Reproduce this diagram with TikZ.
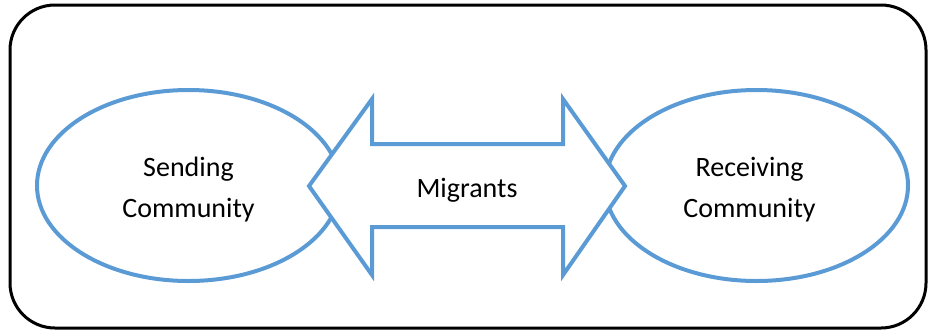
\documentclass[tikz,border=0pt]{standalone}
\usepackage{fontspec}
\setmainfont{Carlito}
\usetikzlibrary{shapes.geometric}
\definecolor{ringblue}{RGB}{91,155,213}

\begin{document}
\begin{tikzpicture}[x=1pt, y=-1pt,
    community/.style={ellipse, draw=ringblue, line width=4pt, minimum width=303pt, minimum height=191pt, inner sep=0pt},
    caption/.style={align=center, font=\fontsize{28}{41}\selectfont},
    flow/.style={draw=ringblue, line width=4pt, fill=white, line join=miter}]
    \useasboundingbox (0,0) rectangle (928,333);

    % outer frame
    \draw[line width=3pt, rounded corners=45pt] (10,5) rectangle (926,328);

    % the two communities
    \node[community] (send) at (188.5,185.5) {};
    \node[community] (recv) at (756.5,185.5) {};
    \node[caption, yshift=-4pt] (sendtext) at (send.center) {Sending\\Community};
    \node[caption, xshift=-7pt, yshift=-4pt] (recvtext) at (recv.center) {Receiving\\Community};

    % two-way arrow between them
    \draw[flow] (309,186) -- (372,99) -- (372,144) -- (563,144) -- (563,99) -- (625,186)
        -- (563,275) -- (563,227) -- (372,227) -- (372,275) -- cycle;
    \node[caption, yshift=-4pt] (mig) at (467,186) {Migrants};
\end{tikzpicture}
\end{document}
